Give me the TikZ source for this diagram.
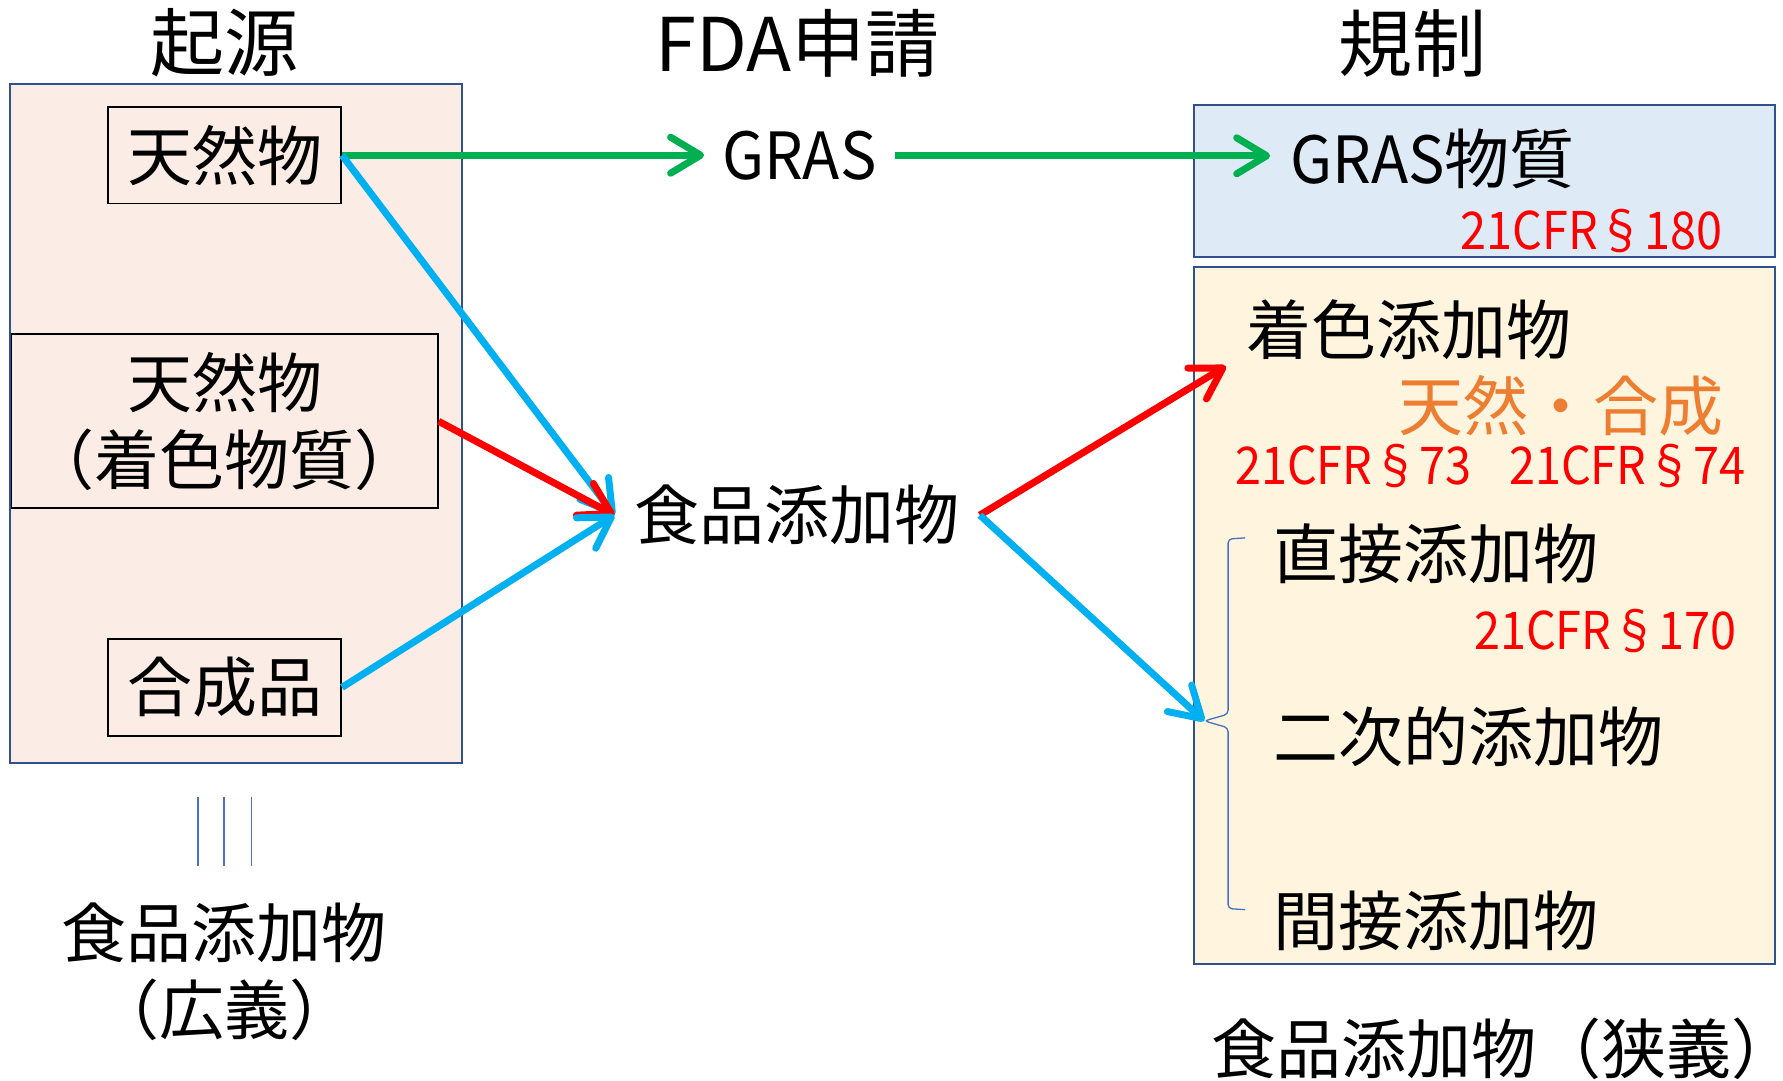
\documentclass[tikz,border=0pt]{standalone}
\usepackage{fontspec}
\setmainfont{Noto Sans CJK JP}
\newfontfamily\cfrfont[FakeStretch=0.9]{Noto Sans CJK JP}
\newfontfamily\grasfont[FakeStretch=0.94]{Noto Sans CJK JP}
\usetikzlibrary{arrows.meta}
\definecolor{gcol}{HTML}{00B050}
\definecolor{bcol}{HTML}{00B0F0}
\definecolor{rcol}{HTML}{FF0000}
\definecolor{ocol}{HTML}{ED7D31}
\definecolor{boxblue}{HTML}{2F528F}
\definecolor{thinblue}{HTML}{4472C4}
\definecolor{srcfill}{HTML}{FBEDE5}
\definecolor{grasfill}{HTML}{DEEBF7}
\definecolor{regfill}{HTML}{FFF4DE}
\tikzset{
  big/.style={font=\fontsize{65}{77}\selectfont},
  ttl/.style={font=\fontsize{74}{80}\selectfont},
  cfr/.style={text=rcol,font=\cfrfont\fontsize{52}{60}\selectfont,inner sep=0pt},
  ibox/.style={draw=black,line width=1.7pt,inner sep=0pt,align=center,big},
  obox/.style={draw=boxblue,line width=2.2pt},
  lbl/.style={big,inner sep=0pt},
  arr/.style={line width=7pt,-{Straight Barb[length=30pt,width=36pt,round]}},
  thin/.style={draw=thinblue,line width=1.3pt}
}
\begin{document}
\begin{tikzpicture}[x=1.1371pt,y=-1.1371pt]
\useasboundingbox (0,0) rectangle (1568,950);
\fill[white] (0,0) rectangle (1568,950);

% titles
\node[ttl] (t1) at (197,38) {起源};
\node[ttl] (t2) at (701,38) {FDA申請};
\node[ttl] (t3) at (1242,38) {規制};

% big boxes
\draw[obox,fill=srcfill] (9,74) rectangle (406,671);
\draw[obox,fill=grasfill] (1050,92) rectangle (1561,226);
\draw[obox,fill=regfill] (1050,235) rectangle (1561,848);

% source nodes
\node[ibox,minimum width=233.1pt,minimum height=96.7pt] (n1) at (197.5,136.5) {天然物};
\node[ibox,minimum width=426.4pt,minimum height=174pt] (n2) at (197.5,370.5) {天然物\\（着色物質）};
\node[ibox,minimum width=233.1pt,minimum height=96.7pt] (n3) at (197.5,604.5) {合成品};

% equivalence lines and broad label
\draw[thin] (174,701) -- (174,762);
\draw[thin] (197,701) -- (197,762);
\draw[thin] (221,701) -- (221,762);
\node[big,align=center,inner sep=0pt] (broad) at (197,855) {食品添加物\\（広義）};

% middle nodes
\node[big,inner xsep=18pt,inner ysep=0pt,font=\grasfont\fontsize{65}{77}\selectfont] (gras) at (703,137) {GRAS};
\node[big,inner xsep=20pt,inner ysep=0pt] (food) at (701,453) {食品添加物};

% right side
\node[big,anchor=west,inner xsep=20pt,inner ysep=0pt] (gbody) at (1117,140) {{\grasfont GRAS}物質};
\node[cfr,anchor=east] (c180) at (1515,203) {21CFR§180};
\node[lbl,anchor=west] (color) at (1096,290) {着色添加物};
\node[lbl,anchor=east,text=ocol] (ns) at (1516,357) {天然・合成};
\node[cfr,anchor=west] (c73) at (1086,410) {21CFR§73};
\node[cfr,anchor=east] (c74) at (1535,410) {21CFR§74};
\node[lbl,anchor=west] (direct) at (1120,487) {直接添加物};
\node[cfr,anchor=east] (c170) at (1527,555) {21CFR§170};
\node[lbl,anchor=west] (second) at (1120,648) {二次的添加物};
\node[lbl,anchor=west] (indirect) at (1120,810) {間接添加物};
\node[lbl] (narrow) at (1323,922) {食品添加物（狭義）};

% brace
\coordinate (btip) at (1059,634);
\coordinate (ctip) at (1078,322);
\draw[thin,rounded corners=4pt] (1095,473) -- (1080,474) -- (1080,628) -- (btip) -- (1080,640) -- (1080,799) -- (1095,800);

% arrows
\draw[arr,draw=gcol] (n1.east) -- (n1.east -| gras.west);
\draw[arr,draw=gcol] (gras.east) -- (gras.east -| gbody.west);
\draw[arr,draw=bcol] (n1.east) -- (food.west);
\draw[arr,draw=rcol] (n2.east) -- (food.west);
\draw[arr,draw=bcol] (n3.east) -- (food.west);
\draw[arr,draw=rcol] (food.east) -- (ctip);
\draw[arr,draw=bcol] (food.east) -- (btip);
\end{tikzpicture}
\end{document}
